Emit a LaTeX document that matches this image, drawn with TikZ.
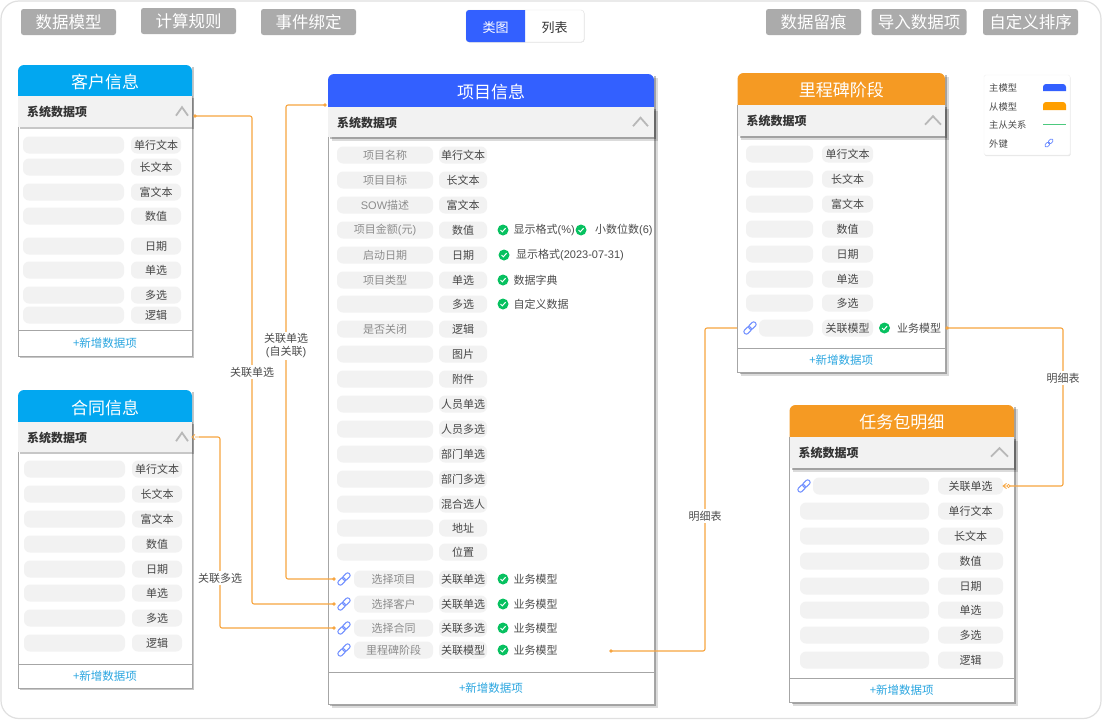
\documentclass[tikz,border=0pt]{standalone}
\usepackage{fontspec}
\setmainfont{Noto Sans CJK SC}
\newfontfamily\lat{Liberation Sans}
\usetikzlibrary{shadows,calc}
\definecolor{cblue}{HTML}{3360FF}
\definecolor{csky}{HTML}{02A7F0}
\definecolor{corange}{HTML}{F59A23}
\definecolor{cline}{HTML}{F7A540}
\definecolor{cpill}{HTML}{F2F2F2}
\definecolor{cbtn}{HTML}{ABABAB}
\definecolor{cgreen}{HTML}{07C160}
\definecolor{clink}{HTML}{6C8CFF}
\definecolor{cadd}{HTML}{2BA6E0}
\tikzset{
 x=1pt,y=-1pt,
 btn/.style={fill=cbtn,rounded corners=2.5pt,text=white,font=\fontsize{16.5}{18}\selectfont,minimum height=26pt,minimum width=95pt,inner sep=0pt},
 pill/.style={fill=cpill,rounded corners=6pt,minimum height=17pt,inner sep=0pt,font=\fontsize{11}{13}\selectfont},
 ntext/.style={text=black!45},
 ttext/.style={text=black!72},
 cardshadow/.style={drop shadow={shadow xshift=3.6pt,shadow yshift=-3.6pt,fill=black,opacity=.14},drop shadow={shadow xshift=2.2pt,shadow yshift=-2.2pt,fill=black,opacity=.26}},
 cardlight/.style={drop shadow={shadow xshift=1.6pt,shadow yshift=-1.6pt,fill=black,opacity=.22}},
 conn/.style={draw=cline,line width=1.1pt,rounded corners=2pt},
 clabel/.style={fill=white,inner sep=1.5pt,align=center,font=\fontsize{11}{13}\selectfont,text=black!70},
 chktext/.style={anchor=west,inner sep=0pt,font=\fontsize{11}{13}\selectfont,text=black!70},
 legtext/.style={anchor=west,inner sep=0pt,font=\fontsize{9.3}{11}\selectfont,text=black!70},
 linkstroke/.style={draw=clink,line width=1pt},
}
\newcommand{\mycard}[9]{%
 \pgfmathsetmacro\xm{(#2+#3)/2}\pgfmathsetmacro\ym{(#4+#5)/2+1.5}\pgfmathsetmacro\ybar{(#5+#6)/2+.7}\pgfmathsetmacro\yadd{(#7+#8)/2+.5}%
 \pgfmathsetmacro\xt{#2+9}\pgfmathsetmacro\xcc{#3-\chevgap}\pgfmathsetmacro\xca{\xcc-\chevw}\pgfmathsetmacro\xcb{\xcc-\chevw/2}%
 \pgfmathsetmacro\ycu{\ybar-5}\pgfmathsetmacro\ycd{\ybar+3.5}%
 \fill[white,\cardstyle] (#2,#4) rectangle (#3,#8);
 \draw[black!35,line width=1pt] (#2,#5) -- (#2,#8) -- (#3,#8) -- (#3,#5);
 \draw[black!35,line width=1pt] (#2,#7) -- (#3,#7);
 \fill[#9] (#2,#5) [rounded corners=6pt] -- (#2,#4) -- (#3,#4) [sharp corners] -- (#3,#5) -- cycle;
 \fill[cpill,\cardstyle] (#2,#5) rectangle (#3,#6);
 \node[text=white,font=\fontsize{17}{19}\selectfont,inner sep=0pt] (#1-title) at (\xm,\ym) {\cardtitle};
 \node[anchor=west,inner sep=0pt,font=\bfseries\fontsize{12}{14}\selectfont,text=black!80] (#1-bar) at (\xt,\ybar) {系统数据项};
 \draw[black!28,line width=1.8pt] (\xca,\ycd) -- (\xcb,\ycu) -- (\xcc,\ycd);
 \node[inner sep=0pt,font=\fontsize{11.5}{13}\selectfont,text=cadd] (#1-add) at (\xm,\yadd) {+新增数据项};
}
\newcommand{\rowp}[8]{%
 \pgfmathsetmacro\wa{#4-#3}\pgfmathsetmacro\wb{#6-#5}\pgfmathsetmacro\ma{(#3+#4)/2}\pgfmathsetmacro\mb{(#5+#6)/2}%
 \node[pill,ntext,minimum width=\wa pt] (#1-n#2) at (\ma,#2) {#7};
 \node[pill,ttext,minimum width=\wb pt] (#1-t#2) at (\mb,#2) {#8};
}
\newcommand{\chk}[5]{%
 \fill[cgreen] (#2,#3) circle (5.5);
 \draw[white,line width=1pt] ($(#2,#3)+(-2.5,0)$) -- ($(#2,#3)+(-.7,1.8)$) -- ($(#2,#3)+(2.6,-1.8)$);
 \node[chktext] (#1) at (#4,#3) {#5};
}
\newcommand{\lnk}[2]{%
 \begin{scope}[shift={(#1,#2)},rotate=45]
 \draw[linkstroke,rounded corners=2pt] (-7.5,-2.4) rectangle (.8,2.4);
 \draw[linkstroke,rounded corners=2pt] (-.8,-2.4) rectangle (7.5,2.4);
 \end{scope}
}
\begin{document}
\begin{tikzpicture}
\useasboundingbox (0,0) rectangle (1102,720);
\fill[white] (0,0) rectangle (1102,720);
\draw[black!12,line width=1.2pt,rounded corners=18pt] (1,1) rectangle (1101,718.5);
\node[btn] (b1) at (68.5,22) {数据模型};
\node[btn] (b2) at (188.5,21) {计算规则};
\node[btn] (b3) at (308.5,22) {事件绑定};
\node[btn] (b4) at (813.5,22) {数据留痕};
\node[btn] (b5) at (919,22) {导入数据项};
\node[btn] (b6) at (1030.5,22) {自定义排序};
\draw[black!10,fill=white,rounded corners=3pt,drop shadow={shadow xshift=.5pt,shadow yshift=-.5pt,fill=black,opacity=.12}] (466,10) rectangle (584,42);
\fill[cblue] (525,10) [rounded corners=3pt] -- (466,10) -- (466,42) [sharp corners] -- (525,42) -- cycle;
\node[text=white,font=\fontsize{13}{15}\selectfont,inner sep=0pt] (t1) at (495.5,27.5) {类图};
\node[text=black!80,font=\fontsize{13}{15}\selectfont,inner sep=0pt] (t2) at (554.5,27.5) {列表};
\draw[black!5,fill=white,rounded corners=1.5pt,drop shadow={shadow xshift=.6pt,shadow yshift=-1.2pt,fill=black,opacity=.1}] (984,75) rectangle (1070,155);
\node[legtext] (l1) at (989,88) {主模型};
\node[legtext] (l2) at (989,106.5) {从模型};
\node[legtext] (l3) at (989,125) {主从关系};
\node[legtext] (l4) at (989,143.5) {外键};
\fill[cblue] (1043,91) [rounded corners=3pt] -- (1043,84) -- (1066,84) [sharp corners] -- (1066,91) -- cycle;
\fill[orange!75!yellow] (1043,110) [rounded corners=3pt] -- (1043,102) -- (1066,102) [sharp corners] -- (1066,110) -- cycle;
\draw[green!60!cyan!70!black!70,line width=1pt] (1043,124) -- (1066,124);
\begin{scope}[shift={(1049,143)},rotate=45]
 \draw[linkstroke,line width=.8pt,rounded corners=1.5pt] (-5,-1.7) rectangle (.6,1.7);
 \draw[linkstroke,line width=.8pt,rounded corners=1.5pt] (-.6,-1.7) rectangle (5,1.7);
\end{scope}
\def\chevgap{4}\def\chevw{12}
\def\cardstyle{cardlight}\def\cardtitle{客户信息}
\mycard{kh}{18}{192}{65}{96}{127}{330}{356}{csky}
\foreach \y/\t in {145/单行文本,167/长文本,192/富文本,216/数值,246/日期,270/单选,295/多选,315/逻辑}{\rowp{kh}{\y}{23}{124}{131}{181}{}{\t}}
\def\cardtitle{合同信息}
\mycard{ht}{18}{192}{390}{422}{452}{664}{688}{csky}
\foreach \y/\t in {469/单行文本,494/长文本,519/富文本,544/数值,569/日期,593/单选,618/多选,643/逻辑}{\rowp{ht}{\y}{24}{125}{132}{182}{}{\t}}
\def\chevgap{6}\def\chevw{15}
\def\cardstyle{cardshadow}\def\cardtitle{项目信息}
\mycard{xm}{328}{654}{74}{107}{137}{672}{704}{cblue}
\foreach \y/\n/\t in {155/项目名称/单行文本,180/项目目标/长文本,205/{\lat SOW}描述/富文本,230/项目金额{\lat(}元{\lat)}/数值,255/启动日期/日期,280/项目类型/单选,304//多选,329/是否关闭/逻辑,354//图片,379//附件,404//人员单选,429//人员多选,454//部门单选,479//部门多选,504//混合选人,528//地址,552//位置}{\rowp{xm}{\y}{337}{433}{439}{487}{\n}{\t}}
\foreach \y/\n/\t in {579/选择项目/关联单选,604/选择客户/关联单选,628/选择合同/关联多选}{\rowp{xm}{\y}{354}{433}{439}{487}{\n}{\t}\lnk{344}{\y}\chk{xm-c\y}{503}{\y}{513.5}{业务模型}}
\rowp{xm}{650}{354}{433}{439}{487}{里程碑阶段}{关联模型}\lnk{344}{650}\chk{xm-c650}{503}{650}{513.5}{业务模型}
\chk{xm-c230}{503}{230}{513.5}{显示格式{\lat(\%)}}
\chk{xm-d230}{581}{230}{595}{小数位数{\lat(6)}}
\chk{xm-c255}{504}{255}{516}{显示格式{\lat(2023-07-31)}}
\chk{xm-c280}{503}{280}{513.5}{数据字典}
\chk{xm-c304}{503}{304}{513.5}{自定义数据}
\def\chevgap{4}\def\chevw{16}
\def\cardtitle{里程碑阶段}
\mycard{lc}{737.5}{945}{73}{105}{136}{348}{372}{corange}
\foreach \y/\t in {154/单行文本,179/长文本,204/富文本,229/数值,254/日期,279/单选,303/多选}{\rowp{lc}{\y}{746}{813}{822}{873}{}{\t}}
\rowp{lc}{328}{759}{813}{822}{873}{}{关联模型}\lnk{750}{328}\chk{lc-c328}{884.5}{328}{897}{业务模型}
\def\chevgap{6}\def\chevw{17}
\def\cardtitle{任务包明细}
\mycard{rw}{789.5}{1014}{405}{437}{468}{678}{702}{corange}
\rowp{rw}{486}{813}{929}{938}{1003}{}{关联单选}\lnk{804}{486}
\foreach \y/\t in {511/单行文本,536/长文本,561/数值,586/日期,610/单选,635/多选,660/逻辑}{\rowp{rw}{\y}{800}{929}{938}{1003}{}{\t}}
\coordinate (p1a) at (195,116); \coordinate (p1b) at (334,604); \coordinate (l1c) at (252,372);
\coordinate (p2a) at (325,105); \coordinate (p2b) at (334,579); \coordinate (l2c) at (286,346);
\coordinate (p3a) at (199,437); \coordinate (p3b) at (334,628); \coordinate (l3c) at (220,578);
\coordinate (p4a) at (611,651); \coordinate (p4b) at (737,328); \coordinate (l4c) at (705,516);
\coordinate (p5a) at (947,328); \coordinate (p5b) at (1008.5,486); \coordinate (l5c) at (1063,378);
\draw[conn] (p1a) -| (l1c) |- (p1b);
\draw[conn] (p2a) -| (l2c) |- (p2b);
\draw[conn] (p3a) -| (l3c) |- (p3b);
\draw[conn] (p4a) -| (l4c) |- (p4b);
\draw[conn] (p5a) -| (l5c) |- (p5b);
\foreach \p in {p1a,p1b,p2a,p2b,p3b,p4a,p5a}{\fill[cline] (\p) circle (1.9);}
\draw[cline,line width=.8pt] (p3a) -- ++(-4,0) ++(0,-2.5) -- ++(-3,2.5) -- ++(3,2.5);
\draw[cline,line width=.8pt,fill=white] (p5b) circle (1.6);
\draw[cline,line width=.8pt] (p5b) ++(-2,0) -- ++(-3.5,0) ++(3.5,-2.6) -- ++(-3.5,2.6) -- ++(3.5,2.6);
\node[clabel] (lb1) at (l1c) {关联单选};
\node[clabel] (lb2) at (l2c) {关联单选\\{\lat(}自关联{\lat)}};
\node[clabel] (lb3) at (l3c) {关联多选};
\node[clabel] (lb4) at (l4c) {明细表};
\node[clabel] (lb5) at (l5c) {明细表};
\end{tikzpicture}
\end{document}
